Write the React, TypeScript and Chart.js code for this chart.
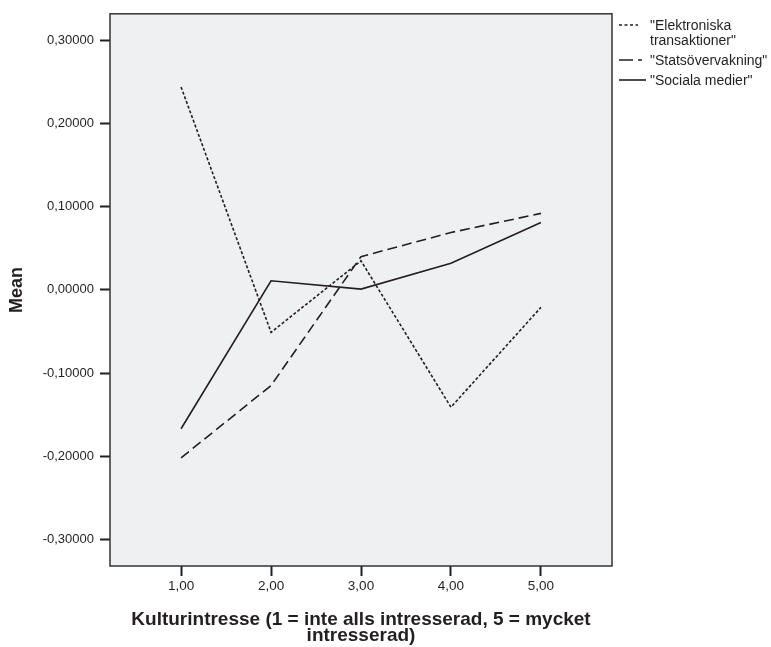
import React, { useEffect, useRef } from 'react';
import { Chart, registerables } from 'chart.js';
Chart.register(...registerables);

const xValues = [1, 2, 3, 4, 5];
const elektroniska = [0.244, -0.051, 0.035, -0.141, -0.021];
const statsovervakning = [-0.202, -0.115, 0.04, 0.069, 0.092];
const socialaMedier = [-0.167, 0.011, 0.001, 0.032, 0.081];
const yTickValues = [-0.3, -0.2, -0.1, 0, 0.1, 0.2, 0.3];
const seriesLabels = [['"Elektroniska', 'transaktioner"'], ['"Statsövervakning"'], ['"Sociala medier"']];
const xTitle = ['Kulturintresse (1 = inte alls intresserad, 5 = mycket', 'intresserad)'];
const yTitle = 'Mean';

const INK = '#231f20';
const FONT = '"Liberation Sans", Arial, Helvetica, sans-serif';
const dashes = [[3, 2], [10, 5], []];
const legendDashes = [[3, 2.5], [14, 5], []];

const bgPlugin = {
  id: 'bgBox',
  beforeDatasetsDraw(chart: any) {
    const { ctx, chartArea: a } = chart;
    ctx.save();
    ctx.fillStyle = '#eff0f2';
    ctx.fillRect(a.left, a.top, a.right - a.left, a.bottom - a.top);
    ctx.restore();
  },
  afterDatasetsDraw(chart: any) {
    const { ctx, chartArea: a } = chart;
    ctx.save();
    ctx.strokeStyle = '#333';
    ctx.lineWidth = 1.5;
    ctx.strokeRect(a.left, a.top, a.right - a.left, a.bottom - a.top);
    ctx.restore();
  },
};

const legendPlugin = {
  id: 'customLegend',
  afterDraw(chart: any) {
    const { ctx } = chart;
    const x0 = chart.chartArea.right + 7;
    const ys = [25, 60, 80];
    const lens = [19, 23, 27];
    ctx.save();
    ctx.font = `14px ${FONT}`;
    ctx.fillStyle = INK;
    ctx.textBaseline = 'middle';
    ctx.textAlign = 'left';
    chart.data.datasets.forEach((_ds: any, i: number) => {
      const y = ys[i];
      ctx.strokeStyle = INK;
      ctx.lineWidth = 1.6;
      ctx.setLineDash(legendDashes[i]);
      ctx.beginPath();
      ctx.moveTo(x0, y);
      ctx.lineTo(x0 + lens[i], y);
      ctx.stroke();
      ctx.setLineDash([]);
      seriesLabels[i].forEach((t: string, j: number) => {
        ctx.fillText(t, x0 + 31, y + 1 + j * 15);
      });
    });
    ctx.restore();
  },
};

export default function App() {
  const ref = useRef<HTMLCanvasElement>(null);
  useEffect(() => {
    document.body.style.margin = '0';
    const makeSet = (label: string, data: number[], i: number) => ({
      label,
      data: xValues.map((x, k) => ({ x, y: data[k] })),
      borderColor: INK,
      borderWidth: 1.6,
      borderDash: dashes[i],
      pointRadius: 0,
      tension: 0,
      fill: false,
    });
    const chart = new Chart(ref.current!, {
      type: 'line',
      data: {
        datasets: [
          makeSet(seriesLabels[0].join(' '), elektroniska, 0),
          makeSet(seriesLabels[1].join(' '), statsovervakning, 1),
          makeSet(seriesLabels[2].join(' '), socialaMedier, 2),
        ],
      },
      options: {
        animation: false,
        responsive: false,
        layout: { padding: { left: 0, top: 13, right: 159, bottom: 0 } },
        plugins: { legend: { display: false }, tooltip: { enabled: false } },
        scales: {
          x: {
            type: 'linear',
            min: 0.21,
            max: 5.79,
            afterBuildTicks: (s: any) => {
              s.ticks = xValues.map((v) => ({ value: v }));
            },
            afterFit: (s: any) => {
              s.height = 81;
            },
            border: { display: false },
            grid: { drawOnChartArea: false, drawTicks: true, tickLength: 10, tickColor: INK, tickWidth: 2 },
            ticks: {
              padding: 2,
              color: INK,
              font: { family: FONT, size: 13.5 },
              callback: (v: any) => Number(v).toFixed(2).replace('.', ','),
            },
            title: {
              display: true,
              text: xTitle,
              color: INK,
              font: { family: FONT, size: 19, weight: 'bold', lineHeight: 0.85 },
              padding: { top: 0, bottom: 3 },
            },
          },
          y: {
            type: 'linear',
            min: -0.332,
            max: 0.332,
            afterBuildTicks: (s: any) => {
              s.ticks = yTickValues.map((v) => ({ value: v }));
            },
            afterFit: (s: any) => {
              s.width = 110;
            },
            border: { display: false },
            grid: { drawOnChartArea: false, drawTicks: true, tickLength: 10, tickColor: INK, tickWidth: 2 },
            ticks: {
              padding: 6,
              color: INK,
              font: { family: FONT, size: 13 },
              callback: (v: any) => Number(v).toFixed(5).replace('.', ','),
            },
            title: {
              display: true,
              text: yTitle,
              color: INK,
              font: { family: FONT, size: 18, weight: 'bold', lineHeight: 1 },
              padding: { top: 8.5, bottom: 0 },
            },
          },
        },
      },
      plugins: [bgPlugin, legendPlugin],
    });
    return () => chart.destroy();
  }, []);
  return <canvas ref={ref} width={771} height={647} style={{ display: 'block' }} />;
}
